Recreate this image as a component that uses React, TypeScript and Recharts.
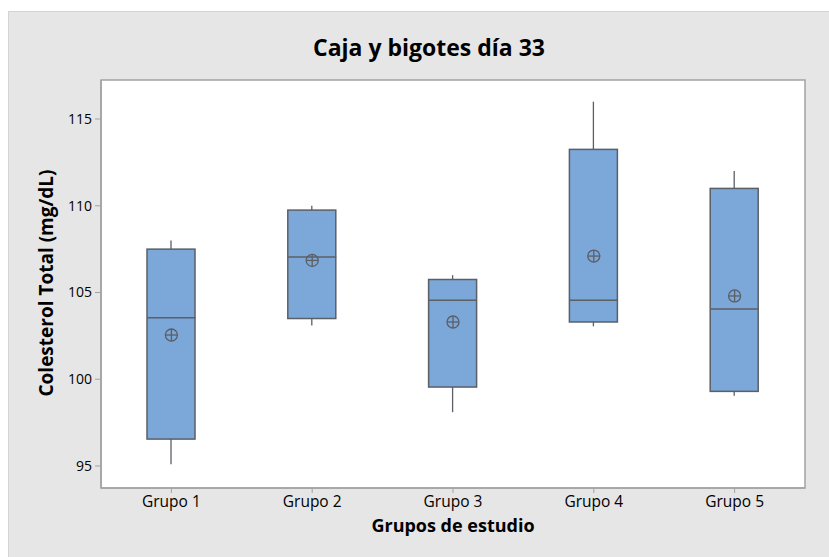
import {
  ComposedChart,
  Bar,
  Scatter,
  XAxis,
  YAxis,
  ReferenceArea,
} from "recharts";

const grupos = ["Grupo 1", "Grupo 2", "Grupo 3", "Grupo 4", "Grupo 5"];
const minimos = [95.1, 103.1, 98.1, 103.05, 99.05];
const q1 = [96.55, 103.5, 99.55, 103.3, 99.3];
const medianas = [103.55, 107.05, 104.55, 104.55, 104.05];
const q3 = [107.5, 109.75, 105.75, 113.25, 111.0];
const maximos = [108.0, 110.0, 106.0, 116.0, 112.0];
const medias = [102.55, 106.85, 103.3, 107.1, 104.8];
const yTicks = [95, 100, 105, 110, 115];

const data = grupos.map((g, i) => ({
  grupo: g,
  bigote: [minimos[i], maximos[i]],
  caja: [q1[i], q3[i]],
  mediana: medianas[i],
  media: medias[i],
}));

const EDGE = "#5b5f66";
const FONT = "'Open Sans', 'Noto Sans', sans-serif";

const Whisker = (p: any) => {
  const cx = p.x + p.width / 2;
  return <line x1={cx} x2={cx} y1={p.y} y2={p.y + p.height} stroke={EDGE} strokeWidth={1.3} />;
};

const Box = (p: any) => (
  <rect x={p.x} y={p.y} width={p.width} height={p.height} fill="#7ba7d9" stroke={EDGE} strokeWidth={1.5} />
);

const MedianLine = (p: any) => (
  <line x1={p.cx - 24} x2={p.cx + 24} y1={p.cy} y2={p.cy} stroke={EDGE} strokeWidth={1.5} />
);

const MeanMark = (p: any) => (
  <g stroke={EDGE} strokeWidth={1.3} fill="none">
    <circle cx={p.cx} cy={p.cy} r={6} />
    <line x1={p.cx - 6} x2={p.cx + 6} y1={p.cy} y2={p.cy} />
    <line x1={p.cx} x2={p.cx} y1={p.cy - 6} y2={p.cy + 6} />
  </g>
);

export default function App() {
  return (
    <div
      style={{
        position: "absolute",
        left: 8,
        top: 11,
        width: 821,
        height: 546,
        background: "#e6e6e6",
        borderTop: "1px solid #d4d4d4",
        borderLeft: "1px solid #d4d4d4",
        fontFamily: FONT,
      }}
    >
      <div
        style={{
          position: "absolute",
          left: 0,
          width: 840,
          top: 19,
          textAlign: "center",
          fontSize: 23,
          fontWeight: 700,
          color: "#000",
        }}
      >
        Caja y bigotes día 33
      </div>
      <div
        style={{
          position: "absolute",
          left: 37,
          top: 271,
          transform: "translate(-50%, -50%) rotate(-90deg)",
          whiteSpace: "nowrap",
          fontSize: 19,
          fontWeight: 700,
          color: "#000",
        }}
      >
        Colesterol Total (mg/dL)
      </div>
      <div
        style={{
          position: "absolute",
          left: 92,
          width: 704,
          top: 501,
          textAlign: "center",
          fontSize: 18,
          fontWeight: 700,
          color: "#000",
        }}
      >
        Grupos de estudio
      </div>
      <ComposedChart
        width={821}
        height={546}
        data={data}
        margin={{ top: 68, right: 25, bottom: 0, left: 32 }}
      >
        <ReferenceArea
          xAxisId="main"
          y1={93.73}
          y2={117.25}
          fill="#ffffff"
          fillOpacity={1}
          stroke="#a3a3a3"
          strokeWidth={1.5}
        />
        <XAxis
          xAxisId="main"
          dataKey="grupo"
          height={70}
          axisLine={{ stroke: "#a3a3a3", strokeWidth: 1.5 }}
          tickLine={{ stroke: "#a3a3a3" }}
          tickSize={5}
          tickMargin={3}
          tick={{ fill: "#000", fontSize: 15.5, fontFamily: FONT }}
        />
        <XAxis xAxisId="w" dataKey="grupo" orientation="top" height={0} hide />
        <YAxis
          domain={[93.73, 117.25]}
          ticks={yTicks}
          allowDataOverflow
          width={60}
          axisLine={{ stroke: "#a3a3a3", strokeWidth: 1.5 }}
          tickLine={{ stroke: "#a3a3a3" }}
          tickSize={6}
          tickMargin={3}
          tick={{ fill: "#000", fontSize: 14, fontFamily: FONT }}
        />
        <Bar xAxisId="w" dataKey="bigote" barSize={10} shape={Whisker} isAnimationActive={false} />
        <Bar xAxisId="main" dataKey="caja" barSize={48} shape={Box} isAnimationActive={false} />
        <Scatter xAxisId="main" dataKey="mediana" shape={MedianLine} isAnimationActive={false} />
        <Scatter xAxisId="main" dataKey="media" shape={MeanMark} isAnimationActive={false} />
      </ComposedChart>
    </div>
  );
}
